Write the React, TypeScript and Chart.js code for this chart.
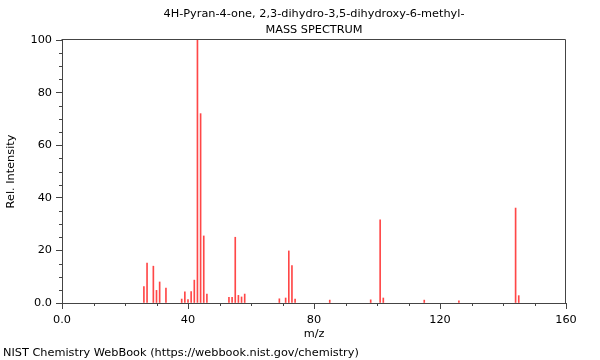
import React, { useEffect, useRef } from "react";
import { Chart, registerables } from "chart.js";

Chart.register(...registerables);

const titleLines = ["4H-Pyran-4-one, 2,3-dihydro-3,5-dihydroxy-6-methyl-", "MASS SPECTRUM"];
const footerText = "NIST Chemistry WebBook (https://webbook.nist.gov/chemistry)";
const xAxisTitle = "m/z";
const yAxisTitle = "Rel. Intensity";

const mzValues = [26, 27, 29, 30, 31, 33, 38, 39, 40, 41, 42, 43, 44, 45, 46, 53, 54, 55, 56, 57, 58, 69, 71, 72, 73, 74, 85, 98, 101, 102, 115, 126, 144, 145];
const intensities = [6.2, 15.2, 14, 4.8, 8, 5.7, 1.5, 4.2, 1.3, 4.3, 8.7, 100, 72, 25.5, 3.4, 2.2, 2.2, 25, 2.9, 2.3, 3.4, 1.6, 1.9, 19.8, 14.2, 1.5, 1.1, 1.2, 31.6, 1.9, 1.1, 0.8, 36.1, 2.8];

const xMin = 0, xMax = 160, xMajor = 40, xMinor = 10;
const yMin = 0, yMax = 100, yMajor = 20, yMinor = 5;

const FONT = '"DejaVu Sans", sans-serif';
const FSIZE = 11.3;
const AXIS_COLOR = "#444";

const fmt = (v: number) => (v === 0 ? "0.0" : String(v));

const decorPlugin = {
  id: "decor",
  afterDraw(chart: any) {
    const { ctx, chartArea } = chart;
    const { left, right, top, bottom } = chartArea;
    ctx.save();
    ctx.strokeStyle = AXIS_COLOR;
    ctx.lineWidth = 1;
    ctx.beginPath();
    ctx.moveTo(Math.round(left) - 0.5, Math.round(top) - 0.5);
    ctx.lineTo(Math.round(right) - 0.5, Math.round(top) - 0.5);
    ctx.lineTo(Math.round(right) - 0.5, Math.round(bottom) + 0.5);
    ctx.stroke();
    const xs = chart.scales.x;
    const ys = chart.scales.y;
    ctx.beginPath();
    for (let v = xMin; v <= xMax; v += xMinor) {
      if (v % xMajor === 0) continue;
      const px = Math.round(xs.getPixelForValue(v)) + 0.5;
      ctx.moveTo(px, bottom);
      ctx.lineTo(px, bottom + 3);
    }
    for (let v = yMin; v <= yMax; v += yMinor) {
      if (v % yMajor === 0) continue;
      const py = Math.round(ys.getPixelForValue(v)) + 0.5;
      ctx.moveTo(left, py);
      ctx.lineTo(left - 3, py);
    }
    ctx.stroke();
    ctx.fillStyle = "#000";
    ctx.font = `${FSIZE}px ${FONT}`;
    ctx.textAlign = "center";
    ctx.textBaseline = "middle";
    const cx = (left + right) / 2;
    ctx.fillText(titleLines[0], cx, 14);
    ctx.fillText(titleLines[1], cx, 30);
    ctx.textAlign = "left";
    ctx.fillText(footerText, 3, 353);
    ctx.restore();
  },
};

export default function App() {
  const ref = useRef<HTMLCanvasElement>(null);
  useEffect(() => {
    if (!ref.current) return;
    const chart = new Chart(ref.current, {
      type: "bar",
      data: {
        datasets: [
          {
            data: mzValues.map((m, i) => ({ x: m, y: intensities[i] })),
            backgroundColor: "rgba(255,0,0,0.72)",
            borderWidth: 0,
            barThickness: 1,
          } as any,
        ],
      },
      options: {
        animation: false,
        responsive: false,
        layout: { padding: { top: 40, right: 34, bottom: 17, left: 0 } },
        plugins: { legend: { display: false }, tooltip: { enabled: false }, title: { display: false } },
        scales: {
          x: {
            type: "linear",
            min: xMin,
            max: xMax,
            offset: false,
            afterFit: (s: any) => { s.height = 40; },
            ticks: {
              stepSize: xMinor,
              autoSkip: false,
              maxRotation: 0,
              padding: 4,
              color: "#000",
              font: { family: FONT, size: FSIZE },
              callback: (v: any) => (v % xMajor === 0 ? fmt(v) : ""),
            },
            grid: {
              drawOnChartArea: false,
              offset: false,
              tickLength: 6,
              tickColor: (c: any) => (c.tick && c.tick.value % xMajor === 0 ? AXIS_COLOR : "rgba(0,0,0,0)"),
            },
            border: { display: true, color: AXIS_COLOR },
            title: { display: true, text: xAxisTitle, color: "#000", font: { family: FONT, size: FSIZE }, padding: { top: 4, bottom: 2 } },
          },
          y: {
            min: yMin,
            max: yMax,
            afterFit: (s: any) => { s.width = 62; },
            ticks: {
              stepSize: yMinor,
              autoSkip: false,
              padding: 4,
              color: "#000",
              font: { family: FONT, size: FSIZE },
              callback: (v: any) => (v % yMajor === 0 ? fmt(v) : ""),
            },
            grid: {
              drawOnChartArea: false,
              tickLength: 6,
              tickColor: (c: any) => (c.tick && c.tick.value % yMajor === 0 ? AXIS_COLOR : "rgba(0,0,0,0)"),
            },
            border: { display: true, color: AXIS_COLOR },
            title: { display: true, text: yAxisTitle, color: "#000", font: { family: FONT, size: FSIZE }, padding: { top: 4, bottom: 4 } },
          },
        },
      } as any,
      plugins: [decorPlugin],
    });
    return () => chart.destroy();
  }, []);
  return (
    <div style={{ position: "absolute", left: 0, top: 0, width: 600, height: 360, background: "#fff" }}>
      <canvas ref={ref} width={600} height={360} />
    </div>
  );
}
